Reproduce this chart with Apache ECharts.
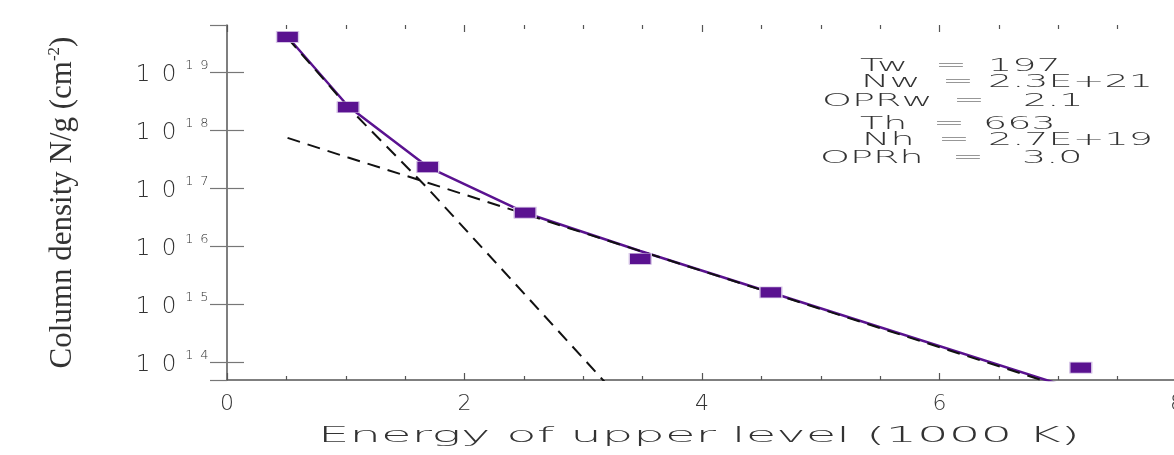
<!DOCTYPE html>
<html><head><meta charset="utf-8">
<script src="https://cdn.jsdelivr.net/npm/echarts@6/dist/echarts.min.js"></script>
<style>html,body{margin:0;padding:0;background:#fff}#c{width:1174px;height:455px}</style>
</head><body><div id="c"></div>
<script>
// ---- data ----
const energy    = [0.51, 1.02, 1.69, 2.51, 3.48, 4.58, 7.19];          // 1000 K
const observed  = [4.1e19, 2.5e18, 2.33e17, 3.8e16, 6.1e15, 1.6e15, 8.1e13];
const totalFit  = [4.1e19, 2.6e18, 2.35e17, 3.8e16, 8.3e15, 1.6e15, 3.2e13];
const hotFit    = [7.4e17, 3.4e17, 1.25e17, 3.6e16, 8.3e15, 1.57e15, 3.0e13];
const warmX     = [0.51, 1.02, 1.69, 2.51, 3.48];
const warmFit   = [3.9e19, 2.5e18, 1.0e17, 1.47e15, 9.8e12];
const xTicks    = [0, 2, 4, 6, 8];
const yTickExps = [14, 15, 16, 17, 18, 19];
const fitLabels = ['Tw', 'Nw', 'OPRw', 'Th', 'Nh', 'OPRh'];
const fitValues = ['197', '2.3E+21', '2.1', '663', '2.7E+19', '3.0'];
const xTitle = 'Energy of upper level (1000 K)';

// ---- styling / layout ----
const purple = '#5a1290';
const axisGray = '#555';
const txt = '#333';
const fam = "'DejaVu Sans'";
const yMin = Math.pow(10, 13.695), yMax = Math.pow(10, 19.816);

const ctx = document.createElement('canvas').getContext('2d');
function measure(t, font) { ctx.font = font; return ctx.measureText(t).width; }

const annFont = "200 18px " + fam;
const annScale = 165 / measure('2.3E+21', annFont);
const annX = [[860, 935, 988], [861, 942, 988], [822, 953, 1023], [860, 933, 983], [862, 938, 988], [820, 952, 1022]];
const annY = [66.5, 82.5, 101.5, 124.5, 140, 158.5];

const graphics = [];
fitLabels.forEach((lab, i) => {
  [lab, '=', fitValues[i]].forEach((t, j) => {
    graphics.push({
      type: 'text', x: annX[i][j], y: annY[i], scaleX: annScale,
      style: { text: t, font: annFont, fill: txt, textAlign: 'left', textVerticalAlign: 'middle', align: 'left', verticalAlign: 'middle' }
    });
  });
});
const xtFont = "200 21px " + fam;
const xtScale = 762 / measure(xTitle, xtFont);
graphics.push({
  type: 'text', x: 699, y: 437, scaleX: xtScale,
  style: { text: xTitle, font: xtFont, fill: txt, textAlign: 'center', textVerticalAlign: 'middle', align: 'center', verticalAlign: 'middle' }
});

function pairs(xs, ys) { return xs.map((x, i) => [x, ys[i]]); }

const chart = echarts.init(document.getElementById('c'));
chart.setOption({
  animation: false,
  backgroundColor: '#fff',
  grid: { left: 227, top: 25, width: 950, height: 355, outerBoundsMode: 'none', containLabel: false },
  xAxis: [{
    type: 'value', position: 'bottom', min: 0, max: 8, interval: 2,
    axisLine: { show: true, lineStyle: { color: axisGray, width: 1.5 } },
    axisTick: { show: true, inside: true, length: 7, lineStyle: { color: axisGray, width: 1.2 } },
    minorTick: { show: true, splitNumber: 4, length: 4, lineStyle: { color: axisGray, width: 1.2 } },
    splitLine: { show: false },
    axisLabel: {
      margin: 13, fontSize: 22, fontFamily: fam, fontWeight: 200, color: txt,
      formatter: v => xTicks.includes(v) ? String(v) : ''
    }
  }, {
    type: 'value', position: 'top', min: 0, max: 8, interval: 2,
    axisLine: { show: false },
    axisTick: { show: true, inside: true, length: 7, lineStyle: { color: axisGray, width: 1.2 } },
    minorTick: { show: true, splitNumber: 4, length: 4, lineStyle: { color: axisGray, width: 1.2 } },
    splitLine: { show: false }, axisLabel: { show: false }
  }],
  yAxis: [{
    type: 'log', logBase: 10, min: yMin, max: yMax, position: 'left',
    axisLine: { show: true, lineStyle: { color: axisGray, width: 1.5 } },
    axisTick: { show: true, inside: true, length: 17, lineStyle: { color: '#777', width: 1.2 } },
    minorTick: { show: false }, splitLine: { show: false },
    axisLabel: {
      margin: 15, showMinLabel: false, showMaxLabel: false,
      formatter: v => {
        const l = Math.log10(v), e = Math.round(l);
        if (Math.abs(l - e) > 1e-6 || !yTickExps.includes(e)) return '';
        return '{d|1}{d|0}' + String(e).split('').map(c => '{e|' + c + '}').join('');
      },
      rich: {
        d: { fontSize: 23, fontFamily: fam, fontWeight: 200, color: txt, width: 26, align: 'center', lineHeight: 26, padding: [6, 0, 0, 0] },
        e: { fontSize: 13, fontFamily: fam, fontWeight: 200, color: txt, width: 15, align: 'center', verticalAlign: 'top', lineHeight: 14 }
      }
    },
    name: '{t|Column density N/g (cm}{s|-2}{t|)}',
    nameLocation: 'middle', nameRotate: 90, nameGap: 147,
    nameTextStyle: {
      rich: {
        t: { fontSize: 31, fontFamily: "'Liberation Serif'", color: txt, lineHeight: 34 },
        s: { fontSize: 17, fontFamily: "'Liberation Serif'", color: txt, verticalAlign: 'top', lineHeight: 18 }
      }
    }
  }, {
    type: 'log', logBase: 10, min: yMin, max: yMax, position: 'right',
    axisLine: { show: false },
    axisTick: { show: true, inside: true, length: 17, lineStyle: { color: '#777', width: 1.2 } },
    splitLine: { show: false }, axisLabel: { show: false }
  }],
  series: [{
    name: 'Total fit', type: 'line', data: pairs(energy, totalFit),
    symbol: 'none', lineStyle: { color: purple, width: 2.5 }, z: 2, clip: true
  }, {
    name: 'Hot component', type: 'line', data: pairs(energy, hotFit),
    symbol: 'none', lineStyle: { color: '#111', width: 2, type: [13, 8] }, z: 3, clip: true
  }, {
    name: 'Warm component', type: 'line', data: pairs(warmX, warmFit),
    symbol: 'none', lineStyle: { color: '#111', width: 2, type: [13, 8] }, z: 3, clip: true
  }, {
    name: 'Observed', type: 'scatter', data: pairs(energy, observed),
    symbol: 'rect', symbolSize: [22, 11],
    itemStyle: { color: purple, opacity: 1, borderColor: '#d8c8e8', borderWidth: 1 }, z: 5
  }],
  graphic: graphics
});
</script></body></html>
